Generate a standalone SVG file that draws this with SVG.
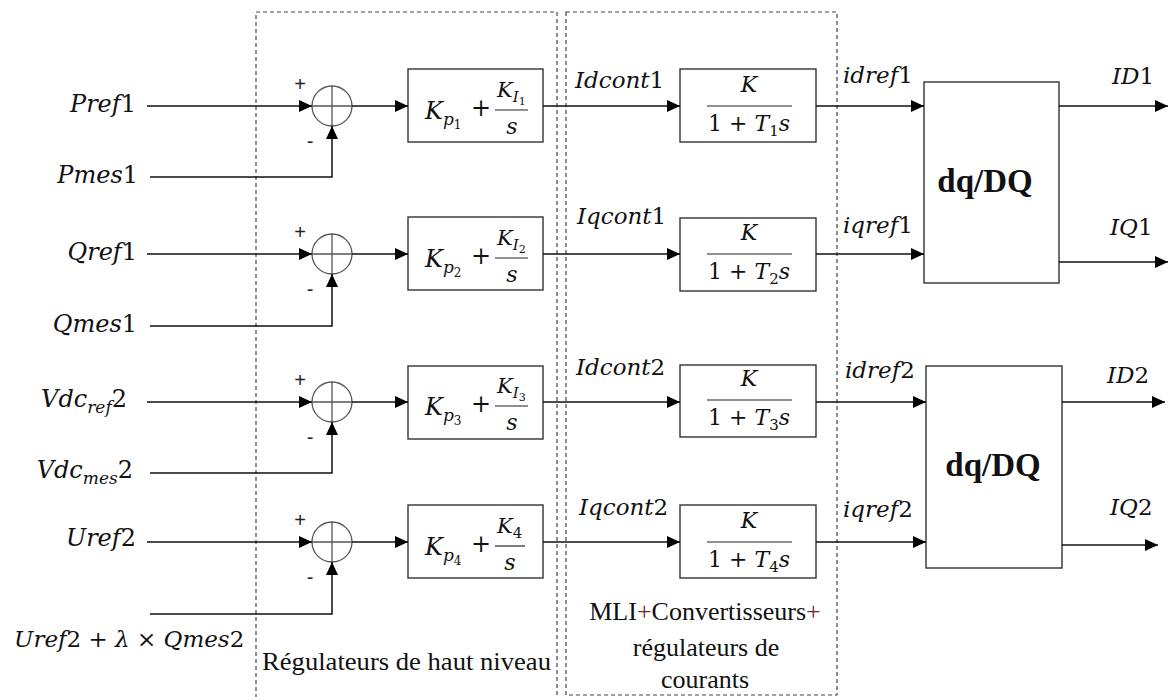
<svg xmlns="http://www.w3.org/2000/svg" width="1169" height="697" viewBox="0 0 1169 697">
<style>
.m{font-family:'DejaVu Serif','Liberation Serif',serif;font-style:italic;fill:#111}
.u{font-style:normal}
.t{font-family:'Liberation Serif','Times New Roman',serif;fill:#111}
.box{fill:#fff;stroke:#333;stroke-width:1.4}
.sum{fill:none;stroke:#555;stroke-width:1.3}
.ln{fill:none;stroke:#111;stroke-width:1.5}
.bar{stroke:#222;stroke-width:1.2}
.dash{fill:none;stroke:#444;stroke-width:1.2;stroke-dasharray:4 3}
.sg{font-family:'Liberation Sans',Arial,sans-serif;font-size:20px;fill:#222}
</style>
<defs>
<marker id="ah" markerWidth="13" markerHeight="12" refX="13" refY="6" orient="auto" markerUnits="userSpaceOnUse"><path d="M0,0 L13,6 L0,12 z" fill="#000"/></marker>
</defs>
<rect width="1169" height="697" fill="#fff"/>

<g id="frames">
<rect class="dash" x="256" y="12" width="301" height="700"/>
<rect class="dash" x="566" y="12" width="271" height="683"/>
<text class="t" x="262" y="670" font-size="26" textLength="289" lengthAdjust="spacingAndGlyphs">Régulateurs de haut niveau</text>
<text class="t" x="705" y="620" font-size="26" text-anchor="middle">MLI<tspan fill="#7a1f2b">+</tspan>Convertisseurs<tspan fill="#7a1f2b">+</tspan></text>
<text class="t" x="706" y="656" font-size="26" text-anchor="middle">régulateurs de</text>
<text class="t" x="705" y="688" font-size="26" text-anchor="middle">courants</text>
</g>

<g id="inputs">
<text class="m" x="136" y="112" font-size="24" text-anchor="end">Pref<tspan class="u">1</tspan></text>
<text class="m" x="138" y="183" font-size="24" text-anchor="end">Pmes<tspan class="u">1</tspan></text>
<text class="m" x="137" y="260" font-size="24" text-anchor="end">Qref<tspan class="u">1</tspan></text>
<text class="m" x="137" y="332" font-size="24" text-anchor="end">Qmes<tspan class="u">1</tspan></text>
<text class="m" x="127" y="407" font-size="24" text-anchor="end">Vdc<tspan font-size="17" dy="6">ref</tspan><tspan class="u" dy="-6">2</tspan></text>
<text class="m" x="133" y="478" font-size="24" text-anchor="end">Vdc<tspan font-size="17" dy="6">mes</tspan><tspan class="u" dy="-6">2</tspan></text>
<text class="m" x="136" y="546" font-size="24" text-anchor="end">Uref<tspan class="u">2</tspan></text>
<text class="m" x="14" y="647" font-size="23">Uref<tspan class="u">2 + </tspan>λ<tspan class="u"> × </tspan>Qmes<tspan class="u">2</tspan></text>
</g>

<g id="sum1" transform="translate(0,106)">
<circle class="sum" cx="332" cy="0" r="20"/><path class="sum" d="M312,0 H352 M332,-20 V20"/>
<text class="sg" x="300" y="-15" text-anchor="middle">+</text><text class="sg" x="310" y="42" text-anchor="middle">-</text>
</g>
<g id="sum2" transform="translate(0,254)">
<circle class="sum" cx="332" cy="0" r="20"/><path class="sum" d="M312,0 H352 M332,-20 V20"/>
<text class="sg" x="300" y="-15" text-anchor="middle">+</text><text class="sg" x="310" y="42" text-anchor="middle">-</text>
</g>
<g id="sum3" transform="translate(0,402)">
<circle class="sum" cx="332" cy="0" r="20"/><path class="sum" d="M312,0 H352 M332,-20 V20"/>
<text class="sg" x="300" y="-15" text-anchor="middle">+</text><text class="sg" x="310" y="42" text-anchor="middle">-</text>
</g>
<g id="sum4" transform="translate(0,542)">
<circle class="sum" cx="332" cy="0" r="20"/><path class="sum" d="M312,0 H352 M332,-20 V20"/>
<text class="sg" x="300" y="-15" text-anchor="middle">+</text><text class="sg" x="310" y="42" text-anchor="middle">-</text>
</g>

<g id="pi1" transform="translate(0,106)">
<rect class="box" x="408" y="-37" width="135" height="73"/>
<text class="m" x="425" y="13" font-size="24">K<tspan font-size="17" dy="6">p</tspan><tspan class="u" font-size="12" dy="4">1</tspan></text>
<text class="m u" x="481" y="10" font-size="24" text-anchor="middle">+</text>
<text class="m" x="497" y="-9" font-size="21">K<tspan font-size="15" dy="5">I</tspan><tspan class="u" font-size="11" dy="3">1</tspan></text>
<line class="bar" x1="495" y1="4" x2="528" y2="4"/>
<text class="m" x="512" y="28" font-size="22" text-anchor="middle">s</text>
</g>
<g id="pi2" transform="translate(0,254)">
<rect class="box" x="408" y="-37" width="135" height="73"/>
<text class="m" x="425" y="13" font-size="24">K<tspan font-size="17" dy="6">p</tspan><tspan class="u" font-size="12" dy="4">2</tspan></text>
<text class="m u" x="481" y="10" font-size="24" text-anchor="middle">+</text>
<text class="m" x="497" y="-9" font-size="21">K<tspan font-size="15" dy="5">I</tspan><tspan class="u" font-size="11" dy="3">2</tspan></text>
<line class="bar" x1="495" y1="4" x2="528" y2="4"/>
<text class="m" x="512" y="28" font-size="22" text-anchor="middle">s</text>
</g>
<g id="pi3" transform="translate(0,402)">
<rect class="box" x="408" y="-36" width="135" height="73"/>
<text class="m" x="425" y="13" font-size="24">K<tspan font-size="17" dy="6">p</tspan><tspan class="u" font-size="12" dy="4">3</tspan></text>
<text class="m u" x="481" y="10" font-size="24" text-anchor="middle">+</text>
<text class="m" x="497" y="-9" font-size="21">K<tspan font-size="15" dy="5">I</tspan><tspan class="u" font-size="11" dy="3">3</tspan></text>
<line class="bar" x1="495" y1="4" x2="528" y2="4"/>
<text class="m" x="512" y="28" font-size="22" text-anchor="middle">s</text>
</g>
<g id="pi4" transform="translate(0,542)">
<rect class="box" x="408" y="-37" width="135" height="73"/>
<text class="m" x="425" y="13" font-size="24">K<tspan font-size="17" dy="6">p</tspan><tspan class="u" font-size="12" dy="4">4</tspan></text>
<text class="m u" x="481" y="10" font-size="24" text-anchor="middle">+</text>
<text class="m" x="497" y="-9" font-size="21">K<tspan class="u" font-size="15" dy="5">4</tspan></text>
<line class="bar" x1="495" y1="4" x2="525" y2="4"/>
<text class="m" x="510" y="28" font-size="22" text-anchor="middle">s</text>
</g>

<g id="k1" transform="translate(0,106)">
<rect class="box" x="680" y="-37" width="136" height="73"/>
<text class="m" x="749" y="-14" font-size="22" text-anchor="middle">K</text>
<line class="bar" x1="707" y1="0" x2="792" y2="0"/>
<text class="m" x="749" y="25" font-size="22" text-anchor="middle"><tspan class="u">1 + </tspan>T<tspan class="u" font-size="15" dy="5">1</tspan><tspan dy="-5">s</tspan></text>
</g>
<g id="k2" transform="translate(0,254)">
<rect class="box" x="680" y="-36" width="136" height="73"/>
<text class="m" x="749" y="-14" font-size="22" text-anchor="middle">K</text>
<line class="bar" x1="707" y1="0" x2="792" y2="0"/>
<text class="m" x="749" y="25" font-size="22" text-anchor="middle"><tspan class="u">1 + </tspan>T<tspan class="u" font-size="15" dy="5">2</tspan><tspan dy="-5">s</tspan></text>
</g>
<g id="k3" transform="translate(0,402)">
<rect class="box" x="680" y="-37" width="136" height="72"/>
<text class="m" x="749" y="-16" font-size="22" text-anchor="middle">K</text>
<line class="bar" x1="707" y1="-2" x2="792" y2="-2"/>
<text class="m" x="749" y="23" font-size="22" text-anchor="middle"><tspan class="u">1 + </tspan>T<tspan class="u" font-size="15" dy="5">3</tspan><tspan dy="-5">s</tspan></text>
</g>
<g id="k4" transform="translate(0,542)">
<rect class="box" x="680" y="-37" width="136" height="73"/>
<text class="m" x="749" y="-14" font-size="22" text-anchor="middle">K</text>
<line class="bar" x1="707" y1="0" x2="792" y2="0"/>
<text class="m" x="749" y="25" font-size="22" text-anchor="middle"><tspan class="u">1 + </tspan>T<tspan class="u" font-size="15" dy="5">4</tspan><tspan dy="-5">s</tspan></text>
</g>

<g id="dq1">
<rect class="box" x="924" y="82" width="135" height="201"/>
<text class="t" x="985" y="192" font-size="33" font-weight="bold" text-anchor="middle">dq/DQ</text>
</g>
<g id="dq2">
<rect class="box" x="926" y="366" width="136" height="202"/>
<text class="t" x="993" y="476" font-size="33" font-weight="bold" text-anchor="middle">dq/DQ</text>
</g>

<g id="signal-labels">
<text class="m" x="575" y="88" font-size="23">Idcont<tspan class="u">1</tspan></text>
<text class="m" x="577" y="224" font-size="23">Iqcont<tspan class="u">1</tspan></text>
<text class="m" x="576" y="375" font-size="23">Idcont<tspan class="u">2</tspan></text>
<text class="m" x="579" y="515" font-size="23">Iqcont<tspan class="u">2</tspan></text>
<text class="m" x="843" y="83" font-size="23">idref<tspan class="u">1</tspan></text>
<text class="m" x="843" y="233" font-size="23">iqref<tspan class="u">1</tspan></text>
<text class="m" x="845" y="378" font-size="23">idref<tspan class="u">2</tspan></text>
<text class="m" x="843" y="517" font-size="23">iqref<tspan class="u">2</tspan></text>
<text class="m" x="1112" y="84" font-size="23">ID<tspan class="u">1</tspan></text>
<text class="m" x="1110" y="235" font-size="23">IQ<tspan class="u">1</tspan></text>
<text class="m" x="1107" y="383" font-size="23">ID<tspan class="u">2</tspan></text>
<text class="m" x="1110" y="515" font-size="23">IQ<tspan class="u">2</tspan></text>
</g>

<g id="connectors" class="ln">
<line x1="147" y1="106" x2="312" y2="106" marker-end="url(#ah)"/>
<polyline points="150,177 332,177 332,126" marker-end="url(#ah)"/>
<line x1="352" y1="106" x2="408" y2="106" marker-end="url(#ah)"/>
<line x1="543" y1="106" x2="680" y2="106" marker-end="url(#ah)"/>
<line x1="816" y1="106" x2="924" y2="106" marker-end="url(#ah)"/>

<line x1="147" y1="254" x2="312" y2="254" marker-end="url(#ah)"/>
<polyline points="150,326 332,326 332,274" marker-end="url(#ah)"/>
<line x1="352" y1="254" x2="408" y2="254" marker-end="url(#ah)"/>
<line x1="543" y1="254" x2="680" y2="254" marker-end="url(#ah)"/>
<line x1="816" y1="254" x2="924" y2="254" marker-end="url(#ah)"/>

<line x1="147" y1="402" x2="312" y2="402" marker-end="url(#ah)"/>
<polyline points="150,473 332,473 332,422" marker-end="url(#ah)"/>
<line x1="352" y1="402" x2="408" y2="402" marker-end="url(#ah)"/>
<line x1="543" y1="402" x2="680" y2="402" marker-end="url(#ah)"/>
<line x1="816" y1="402" x2="926" y2="402" marker-end="url(#ah)"/>

<line x1="147" y1="542" x2="312" y2="542" marker-end="url(#ah)"/>
<polyline points="150,614 332,614 332,562" marker-end="url(#ah)"/>
<line x1="352" y1="542" x2="408" y2="542" marker-end="url(#ah)"/>
<line x1="543" y1="542" x2="680" y2="542" marker-end="url(#ah)"/>
<line x1="816" y1="542" x2="926" y2="542" marker-end="url(#ah)"/>

<line x1="1059" y1="106" x2="1168" y2="106" marker-end="url(#ah)"/>
<line x1="1059" y1="262" x2="1168" y2="262" marker-end="url(#ah)"/>
<line x1="1062" y1="402" x2="1165" y2="402" marker-end="url(#ah)"/>
<line x1="1062" y1="545" x2="1158" y2="545" marker-end="url(#ah)"/>
</g>
</svg>
